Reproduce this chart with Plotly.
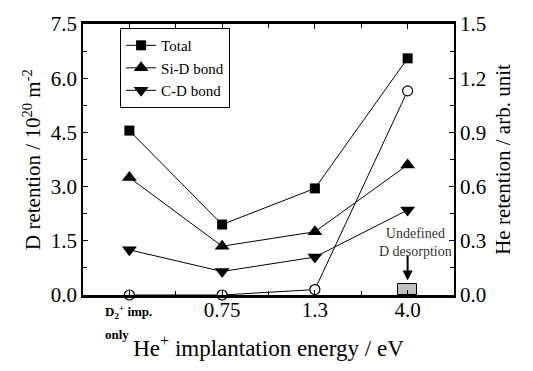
import plotly.graph_objects as go

categories = ["D2+ imp. only", "0.75", "1.3", "4.0"]
x_pos = [0, 1, 2, 3]
tick_text = ["", "0.75", "1.3", "4.0"]
total = [4.55, 1.95, 2.95, 6.55]
si_d = [3.25, 1.35, 1.75, 3.60]
c_d = [1.25, 0.65, 1.05, 2.35]
he = [0.0, 0.0, 0.03, 1.13]
undefined_x = [3]
undefined_val = [0.3]

FONT = "Liberation Serif, Times New Roman, serif"
fig = go.Figure()

fig.add_trace(go.Bar(x=undefined_x, y=undefined_val, width=0.2,
                     marker=dict(color="#c0c0c0", line=dict(color="black", width=1)),
                     showlegend=False, yaxis="y"))

line = dict(color="black", width=1)
fig.add_trace(go.Scatter(x=x_pos, y=total, name="Total", mode="lines+markers",
                         line=line, marker=dict(symbol="square", size=10, color="black"),
                         cliponaxis=False))
fig.add_trace(go.Scatter(x=x_pos, y=si_d, name="Si-D bond", mode="lines+markers",
                         line=line, marker=dict(symbol="triangle-up", size=13, color="black"),
                         cliponaxis=False))
fig.add_trace(go.Scatter(x=x_pos, y=c_d, name="C-D bond", mode="lines+markers",
                         line=line, marker=dict(symbol="triangle-down", size=13, color="black"),
                         cliponaxis=False))
fig.add_trace(go.Scatter(x=x_pos, y=he, name="He", mode="lines+markers", yaxis="y2",
                         line=line, showlegend=False,
                         marker=dict(symbol="circle", size=10, color="white",
                                     line=dict(color="black", width=1.2)),
                         cliponaxis=False))

fig.update_layout(
    width=533, height=371,
    margin=dict(l=83, r=79, t=17, b=76),
    plot_bgcolor="white", paper_bgcolor="white",
    font=dict(family=FONT, color="black", size=20),
    showlegend=True,
    legend=dict(x=0.1, y=0.985, xanchor="left", yanchor="top",
                bgcolor="white", bordercolor="black", borderwidth=1,
                font=dict(size=15, family=FONT), tracegroupgap=0,
                itemwidth=30),
    xaxis=dict(range=[-0.5, 3.5], tickvals=x_pos, ticktext=tick_text,
               ticks="inside", ticklen=5, tickcolor="black",
               minor=dict(dtick=0.5, tick0=0.5, ticks="inside", ticklen=4, tickcolor="black"),
               showline=True, linecolor="black", linewidth=2.5, mirror="ticks",
               showgrid=False, zeroline=False, ticklabelstandoff=-6,
               tickfont=dict(size=21, family=FONT),
               title=dict(text="He<sup>+</sup> implantation energy / eV",
                          font=dict(size=23, family=FONT), standoff=19)),
    yaxis=dict(range=[0, 7.5], dtick=1.5, tickformat=".1f",
               ticks="inside", ticklen=5, tickcolor="black",
               minor=dict(dtick=0.75, ticks="inside", ticklen=4, tickcolor="black"),
               showline=True, linecolor="black", linewidth=1.5,
               showgrid=False, zeroline=False, tickfont=dict(size=21, family=FONT),
               title=dict(text="D retention / 10<sup>20</sup> m<sup>-2</sup>",
                          font=dict(size=21, family=FONT), standoff=4)),
    yaxis2=dict(range=[0, 1.5], dtick=0.3, tickformat=".1f", overlaying="y", side="right",
                ticks="inside", ticklen=5, tickcolor="black",
                minor=dict(dtick=0.15, ticks="inside", ticklen=4, tickcolor="black"),
                showline=True, linecolor="black", linewidth=1.5,
                showgrid=False, zeroline=False, tickfont=dict(size=21, family=FONT),
                title=dict(text="He retention / arb. unit", font=dict(size=21, family=FONT), standoff=10)),
    bargap=0,
)

fig.add_annotation(x=3, y=1.46, xref="x", yref="y", xshift=8,
                   text="Undefined<br>D desorption", showarrow=False,
                   xanchor="center", yanchor="middle",
                   font=dict(size=14, family=FONT, color="#333"))
fig.add_annotation(x=3, y=0.4, xref="x", yref="y", text="",
                   showarrow=True, arrowhead=2, arrowsize=1, arrowwidth=2,
                   arrowcolor="black", ax=0, ay=-26)
fig.add_annotation(x=0, y=0, xref="x", yref="paper", yshift=-6, xshift=-26,
                   text="<b>D<sub>2</sub><sup>+</sup> imp.</b>", showarrow=False,
                   xanchor="left", yanchor="top", font=dict(size=13, family=FONT))
fig.add_annotation(x=0, y=0, xref="x", yref="paper", yshift=-30, xshift=-26,
                   text="<b>only</b>", showarrow=False,
                   xanchor="left", yanchor="top", font=dict(size=13, family=FONT))

fig.write_html("out.html")
